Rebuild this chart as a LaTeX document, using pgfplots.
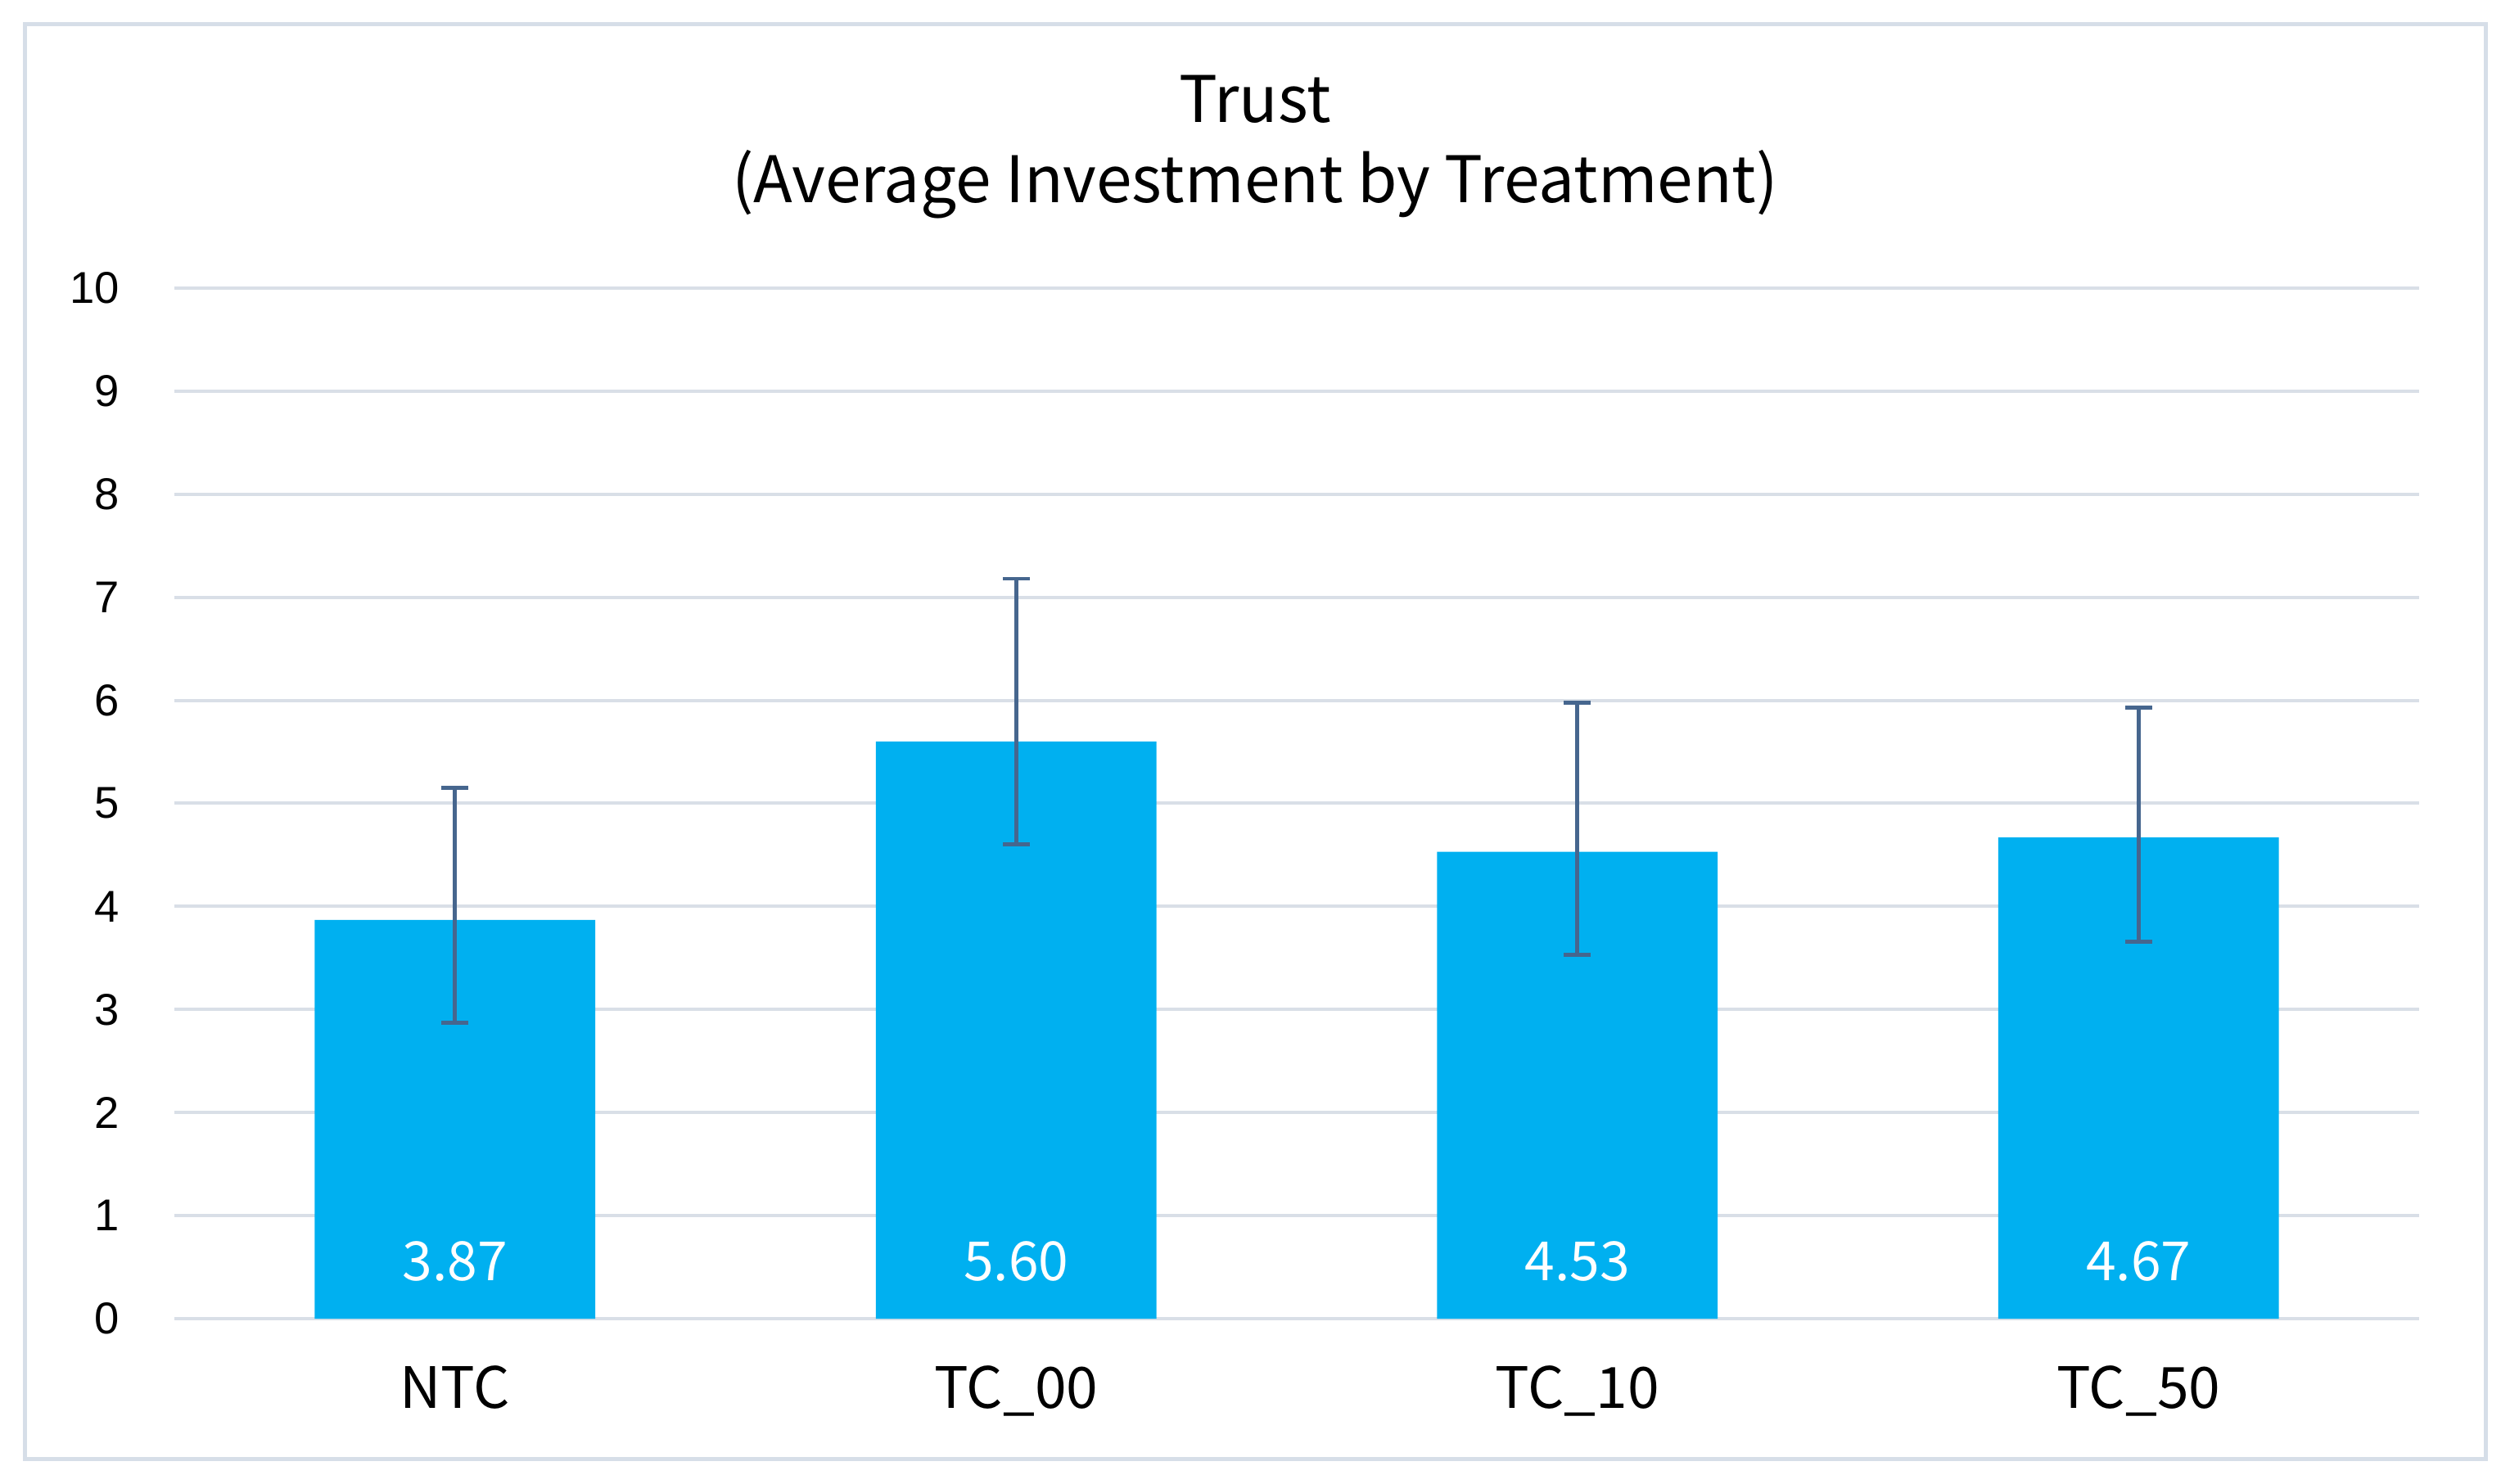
\documentclass[border=0pt]{standalone}
\usepackage{fontspec}
\setmainfont{Noto Sans CJK KR}
\newfontfamily\tickfont{Liberation Sans}
\usepackage{pgfplots}
\usepackage{pgfplotstable}
\pgfplotsset{compat=1.18}

\definecolor{barblue}{HTML}{00B0F0}
\definecolor{errcol}{RGB}{70,102,142}
\definecolor{gridcol}{HTML}{D9DFE7}
\definecolor{framecol}{HTML}{D6DEE8}

% mean investment, upper and lower error
\pgfplotstableread{
x y ep em
0 3.87 1.28 1.00
1 5.60 1.58 1.00
2 4.53 1.45 1.00
3 4.67 1.26 1.01
}\trustdata

\begin{document}
\begin{tikzpicture}
  \useasboundingbox (0,0) rectangle (766.5pt,453pt);
  \draw[framecol, line width=1.25pt] (7.5pt,7.5pt) rectangle (759pt,445.5pt);
  \node[anchor=base, inner sep=0] at (383.25pt,415.5pt) {\fontsize{19.6}{21}\selectfont Trust};
  \node[anchor=base, inner sep=0] at (383.25pt,391pt) {\fontsize{19.6}{21}\selectfont (Average Investment by Treatment)};
  \begin{axis}[
    at={(53.25pt,50.25pt)}, anchor=south west,
    scale only axis,
    width=685.5pt, height=314.75pt,
    xmin=-0.5, xmax=3.5,
    ymin=0, ymax=10,
    ytick distance=1,
    xtick={0,1,2,3},
    xticklabels={NTC, TC\_00, TC\_10, TC\_50},
    /pgf/number format/assume math mode=true,
    axis line style={draw=none},
    major tick style={draw=none},
    ymajorgrids,
    grid style={gridcol, line width=1pt},
    yticklabel style={font=\tickfont\fontsize{13.6}{14}\selectfont, anchor=east, inner sep=0pt, xshift=-16.5pt},
    xticklabel style={font=\fontsize{17.4}{18}\selectfont, anchor=base, inner sep=0pt, yshift=-27.25pt},
    clip=false,
  ]
    \addplot[
      ybar, bar width=0.5, fill=barblue, draw=none,
      visualization depends on={y \as \rawy},
      nodes near coords={\pgfmathprintnumber[fixed,fixed zerofill,precision=2]{\pgfplotspointmeta}},
      every node near coord/.append style={
        white, font=\fontsize{16.5}{17}\selectfont,
        anchor=center, inner sep=0pt,
        shift={(axis direction cs:0,-\rawy)}, yshift=17.4pt},
      error bars/.cd,
        y dir=both, y explicit,
        error bar style={errcol, line width=1.2pt},
        error mark options={errcol, line width=1.2pt, mark size=4.1pt, rotate=90},
    ] table[x=x, y=y, y error plus=ep, y error minus=em] {\trustdata};
  \end{axis}
\end{tikzpicture}
\end{document}
